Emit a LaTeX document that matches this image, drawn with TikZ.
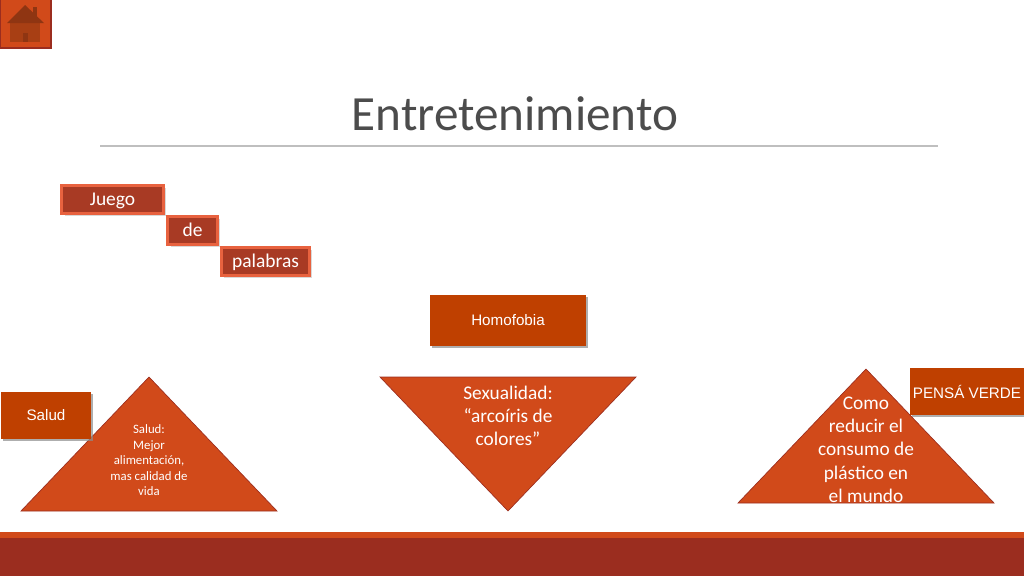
\documentclass[tikz,border=0pt]{standalone}
\usepackage{fontspec}
\setmainfont{Carlito}
\newfontfamily\arialfont{Liberation Sans}
\usetikzlibrary{shadows,positioning}
\definecolor{rust}{HTML}{D14A1A}
\definecolor{burnt}{HTML}{BF4000}
\definecolor{wine}{HTML}{9B2D1F}
\definecolor{coral}{HTML}{E8623F}
\definecolor{brick}{HTML}{A83A24}
\definecolor{roofc}{HTML}{8F3512}
\definecolor{wallc}{HTML}{A83F14}

\begin{document}
\begin{tikzpicture}[x=0.75pt,y=-0.75pt,
  wordbox/.style={draw=coral, line width=2.2pt, fill=brick, text=white, font=\fontsize{14.6}{16}\selectfont,
    minimum height=21pt, inner sep=0pt, text height=11pt, text depth=2pt,
    drop shadow={shadow xshift=2pt, shadow yshift=-2pt, opacity=0.3}},
  tagbox/.style={fill=burnt, text=white, font=\arialfont\fontsize{11.4}{13}\selectfont, inner sep=0pt,
    drop shadow={shadow xshift=1.3pt, shadow yshift=-1.3pt, fill=black!45, opacity=0.7}},
  tri/.style={fill=rust, draw=wine, line width=0.5pt, line join=miter},
  tritext/.style={text=white, align=center}]
\useasboundingbox (0,0) rectangle (1024,576);

% Bottom bands
\fill[wine] (0,538) rectangle (1024,576);
\fill[rust] (0,532) rectangle (1024,538);

% Home button
\draw[fill=rust, draw=wine, line width=0.8pt] (0,-1) rectangle (51,48);
\fill[wallc] (10,22) rectangle (40,42);
\fill[roofc] (33,7) rectangle (37,18);
\fill[roofc] (25,5) -- (44,23) -- (7,23) -- cycle;
\fill[roofc] (23,33) rectangle (28,42);

% Title
\node[text=black!70, font=\fontsize{36.9}{42}\selectfont] (title) at (515,114) {Entretenimiento};
\coordinate (ruleL) at (100,146);
\coordinate (ruleR) at (938,146);
\draw[black!25, line width=0.8pt] (ruleL) -- (ruleR);

% Stair of words
\node[wordbox, minimum width=76pt] (juego) at (112.5,199.5) {Juego};
\node[wordbox, minimum width=37pt] (de) at (192.5,230.5) {de};
\node[wordbox, minimum width=66pt] (palabras) at (265.5,261.5) {palabras};

% Triangles
\draw[tri] (149,377) -- (277,511) -- (21,511) -- cycle;
\draw[tri] (380,377) -- (636,377) -- (508,511) -- cycle;
\draw[tri] (866,369) -- (994,503) -- (738,503) -- cycle;

% Triangle texts
\node[tritext, font=\fontsize{9.6}{11.6}\selectfont] (saludtext) at (149,460.5) {Salud:\\Mejor\\alimentación,\\mas calidad de\\vida};
\node[tritext, font=\fontsize{14.5}{17.5}\selectfont] (sexualidad) at (508,416) {Sexualidad:\\“arcoíris de\\colores”};
\node[tritext, font=\fontsize{14.5}{17.5}\selectfont] (plastico) at (866,449.5) {Como\\reducir el\\consumo de\\plástico en\\el mundo};

% Tags
\node[tagbox, minimum width=67.5pt, minimum height=35pt] (salud) at (46,415.5) {Salud};
\node[tagbox, minimum width=117pt, minimum height=38pt] (homofobia) at (508,320.5) {Homofobia};
\node[tagbox, minimum width=85.5pt, minimum height=35pt] (pensa) at (967,391.5) {PENSÁ VERDE};

\end{tikzpicture}
\end{document}
